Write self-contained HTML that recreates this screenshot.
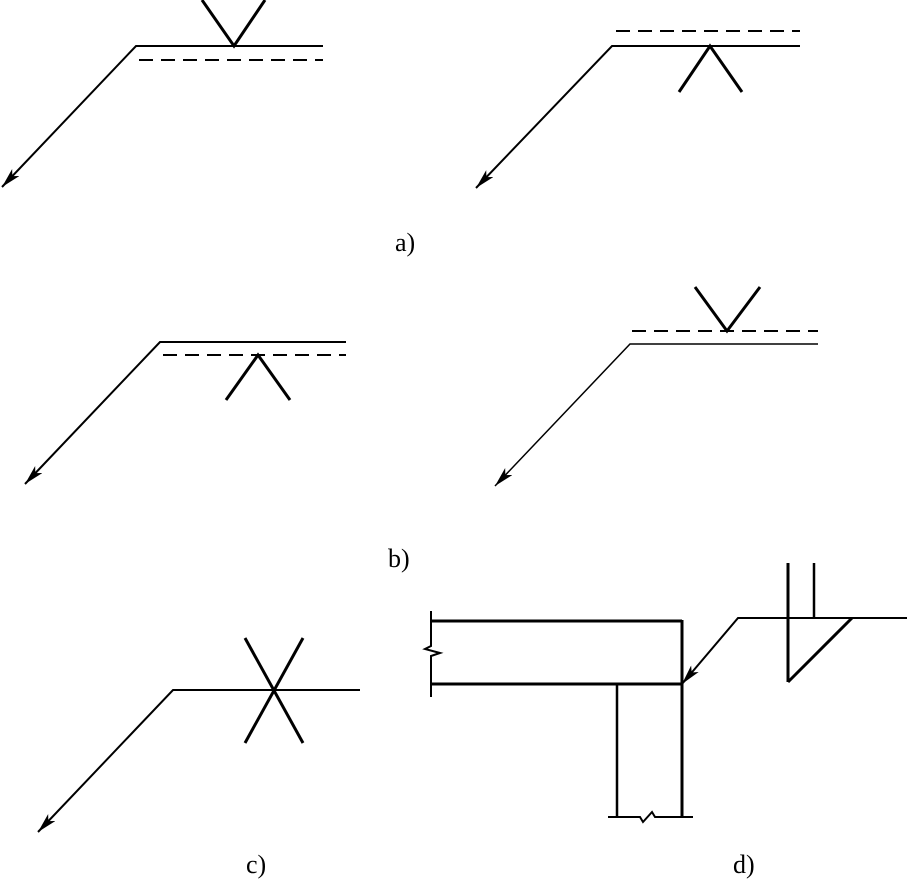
<!DOCTYPE html>
<html><head><style>html,body{margin:0;padding:0;background:#fff;}svg{display:block}</style></head>
<body>
<svg width="907" height="879" viewBox="0 0 907 879" xmlns="http://www.w3.org/2000/svg">
<defs>
<marker id="ar" viewBox="0 0 20 10" refX="20" refY="5" markerWidth="20" markerHeight="10" markerUnits="userSpaceOnUse" orient="auto">
<path d="M0,0 L20,5 L0,10 L5,5 Z" fill="#000"/>
</marker>
</defs>
<g stroke="#000" fill="none" stroke-width="2">
<polyline points="323,46 136,46 2,187" marker-end="url(#ar)"/>
<line x1="139" y1="60" x2="323" y2="60" stroke-dasharray="14,8"/>
<polyline points="202,0 234,46 265,0" stroke-width="3"/>
<polyline points="800,46 612,46 476,188" marker-end="url(#ar)"/>
<line x1="616" y1="31" x2="800" y2="31" stroke-dasharray="14,8"/>
<polyline points="679,92 710,46 742,92" stroke-width="3"/>
<polyline points="346,342 160,342 25,484" marker-end="url(#ar)"/>
<line x1="163" y1="355" x2="346" y2="355" stroke-dasharray="14,8"/>
<polyline points="226,400 258,355 290,400" stroke-width="3"/>
<polyline points="818,344 630,344 495,486" marker-end="url(#ar)" stroke-width="1.5"/>
<line x1="632" y1="331" x2="818" y2="331" stroke-dasharray="14,8"/>
<polyline points="695,287 727,331 760,287" stroke-width="3"/>
<polyline points="360,690 173,690 38,832" marker-end="url(#ar)"/>
<line x1="245" y1="638" x2="303" y2="743" stroke-width="3"/>
<line x1="303" y1="638" x2="245" y2="743" stroke-width="3"/>
<g stroke-width="3">
<line x1="431" y1="621" x2="682" y2="621"/>
<line x1="431" y1="684" x2="682" y2="684"/>
<line x1="682" y1="620" x2="682" y2="817"/>
</g>
<polyline points="431,611 431,646 425,649 440,653 431,656 431,697" stroke-width="2"/>
<line x1="617" y1="684" x2="617" y2="817" stroke-width="2.5"/>
<polyline points="608,817 640,817 643,822 652,812 655,817 693,817" stroke-width="2"/>
<polyline points="907,618 738,618 682,684" marker-end="url(#ar)"/>
<line x1="788" y1="563" x2="788" y2="682" stroke-width="3"/>
<line x1="814" y1="563" x2="814" y2="618" stroke-width="2.5"/>
<line x1="788" y1="682" x2="852" y2="618" stroke-width="3"/>
</g>
<g font-family="Liberation Serif, serif" font-size="26" fill="#000">
<text x="395" y="251">a)</text>
<text x="388" y="567">b)</text>
<text x="246" y="873">c)</text>
<text x="733" y="873">d)</text>
</g>
</svg>
</body></html>
